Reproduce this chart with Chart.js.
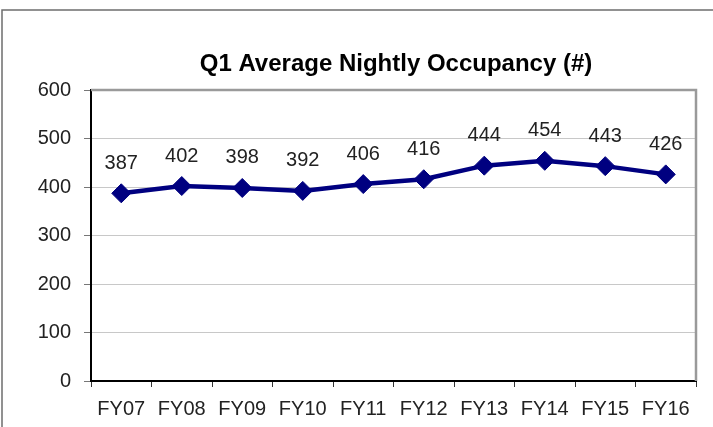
<!DOCTYPE html>
<html>
<head>
<meta charset="utf-8">
<script src="https://cdn.jsdelivr.net/npm/chart.js@4"></script>
<style>
  html, body { margin: 0; padding: 0; background: #fff; }
  #wrap { position: relative; width: 713px; height: 427px; }
</style>
</head>
<body>
<div id="wrap"><canvas id="c" width="713" height="427"></canvas></div>
<script>
const titleText = "Q1 Average Nightly Occupancy (#)";
const categories = ["FY07", "FY08", "FY09", "FY10", "FY11", "FY12", "FY13", "FY14", "FY15", "FY16"];
const occupancy = [387, 402, 398, 392, 406, 416, 444, 454, 443, 426];
const yTicks = [0, 100, 200, 300, 400, 500, 600];

const FONT = "'Liberation Sans', Arial, Helvetica, sans-serif";

const decorPlugin = {
  id: 'decor',
  beforeDraw(chart) {
    const ctx = chart.ctx;
    ctx.save();
    ctx.fillStyle = '#fff';
    ctx.fillRect(0, 0, chart.width, chart.height);
    ctx.strokeStyle = '#6e6e6e';
    ctx.lineWidth = 1.5;
    ctx.beginPath();
    ctx.moveTo(2, 440);
    ctx.lineTo(2, 10);
    ctx.lineTo(720, 10);
    ctx.stroke();
    ctx.restore();
  },
  afterDatasetsDraw(chart) {
    const ctx = chart.ctx;
    const a = chart.chartArea;
    ctx.save();
    ctx.strokeStyle = '#9a9a9a';
    ctx.lineWidth = 2.5;
    ctx.beginPath();
    ctx.moveTo(a.left, a.top);
    ctx.lineTo(a.right, a.top);
    ctx.lineTo(a.right, a.bottom);
    ctx.stroke();
    ctx.fillStyle = '#000';
    ctx.font = "bold 24px " + FONT;
    ctx.textAlign = 'center';
    ctx.textBaseline = 'alphabetic';
    ctx.fillText(titleText, 396, 71);
    const meta = chart.getDatasetMeta(0);
    ctx.fillStyle = '#222';
    ctx.font = "20px " + FONT;
    ctx.textBaseline = 'middle';
    meta.data.forEach((pt, i) => {
      ctx.fillText(String(chart.data.datasets[0].data[i]), pt.x, pt.y - 30);
    });
    ctx.restore();
  }
};

new Chart(document.getElementById('c'), {
  type: 'line',
  data: {
    labels: categories,
    datasets: [{
      data: occupancy,
      borderColor: '#000080',
      backgroundColor: '#000080',
      borderWidth: 4.5,
      pointStyle: 'rectRot',
      pointRadius: 9.5,
      pointBorderWidth: 1,
      pointBackgroundColor: '#000080',
      pointBorderColor: '#000080',
      tension: 0,
      clip: false
    }]
  },
  options: {
    responsive: false,
    animation: false,
    devicePixelRatio: 1,
    layout: { padding: { top: 90, right: 17, bottom: 4, left: 0 } },
    plugins: { legend: { display: false }, title: { display: false }, tooltip: { enabled: false } },
    scales: {
      x: {
        type: 'category',
        offset: true,
        grid: { display: true, offset: true, drawOnChartArea: false, drawTicks: true, tickLength: 6, tickColor: '#333', tickWidth: 1 },
        border: { display: true, color: '#000', width: 2 },
        ticks: { color: '#222', font: { family: FONT, size: 20 }, padding: 10, maxRotation: 0, autoSkip: false },
        afterFit(s) { s.height = 42; }
      },
      y: {
        min: 0, max: 600,
        afterBuildTicks(s) { s.ticks = yTicks.map(v => ({ value: v })); },
        grid: { color: '#c8c8c8', lineWidth: 1, drawTicks: true, tickLength: 7, tickColor: '#777' },
        border: { display: true, color: '#000', width: 2 },
        ticks: { color: '#222', font: { family: FONT, size: 20 }, padding: 13 },
        afterFit(s) { s.width = 91; }
      }
    }
  },
  plugins: [decorPlugin]
});
</script>
</body>
</html>
